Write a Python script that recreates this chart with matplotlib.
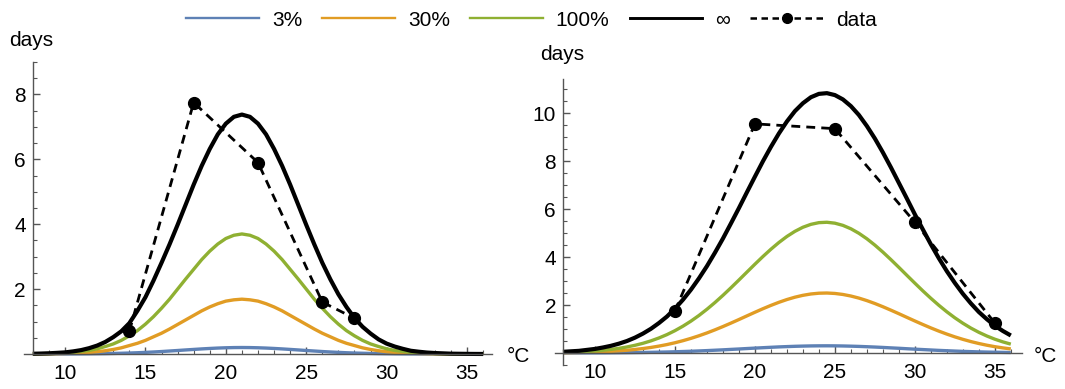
import numpy as np
import matplotlib
matplotlib.use('Agg')
import matplotlib.pyplot as plt
from matplotlib.ticker import MultipleLocator
from matplotlib.lines import Line2D

plt.rcParams['font.family'] = ['Liberation Sans', 'DejaVu Sans']

# temperature grid the model curves were read at
temp = np.arange(8, 36.5, 0.5)

labels = ['3%', '30%', '100%', '\u221e']
colors = ['#5E81B5', '#E19C24', '#8FB032', 'black']

# left panel
left_3 = [0.0003, 0.0005, 0.0008, 0.001, 0.002, 0.003, 0.004, 0.006, 0.009, 0.012,
          0.017, 0.023, 0.030, 0.039, 0.050, 0.062, 0.076, 0.092, 0.108, 0.125,
          0.141, 0.157, 0.171, 0.183, 0.192, 0.198, 0.200, 0.198, 0.192, 0.183,
          0.171, 0.157, 0.141, 0.125, 0.108, 0.092, 0.076, 0.062, 0.050, 0.039,
          0.030, 0.023, 0.017, 0.012, 0.009, 0.006, 0.004, 0.003, 0.002, 0.001,
          0.0008, 0.0005, 0.0003, 0.0002, 0.0001, 0.0001, 0.0]
left_30 = [0.003, 0.004, 0.007, 0.01, 0.016, 0.024, 0.036, 0.05, 0.07, 0.10,
           0.14, 0.19, 0.26, 0.33, 0.42, 0.53, 0.64, 0.77, 0.91, 1.05,
           1.19, 1.33, 1.45, 1.55, 1.63, 1.67, 1.69, 1.67, 1.63, 1.55,
           1.45, 1.33, 1.19, 1.05, 0.91, 0.77, 0.64, 0.53, 0.42, 0.33,
           0.26, 0.19, 0.14, 0.10, 0.07, 0.05, 0.036, 0.024, 0.016, 0.01,
           0.007, 0.004, 0.003, 0.002, 0.001, 0.0005, 0.0003]
left_100 = [0.005, 0.009, 0.014, 0.02, 0.035, 0.05, 0.08, 0.11, 0.16, 0.23,
            0.31, 0.42, 0.56, 0.72, 0.92, 1.15, 1.41, 1.69, 2.00, 2.31,
            2.61, 2.91, 3.17, 3.39, 3.56, 3.66, 3.70, 3.66, 3.56, 3.39,
            3.17, 2.91, 2.61, 2.31, 2.00, 1.69, 1.41, 1.15, 0.92, 0.72,
            0.56, 0.42, 0.31, 0.23, 0.16, 0.11, 0.08, 0.05, 0.035, 0.02,
            0.014, 0.009, 0.005, 0.003, 0.002, 0.001, 0.001]
left_inf = [0.008, 0.014, 0.022, 0.035, 0.05, 0.08, 0.12, 0.18, 0.26, 0.37,
            0.52, 0.70, 0.95, 1.33, 1.75, 2.26, 2.81, 3.38, 3.98, 4.60,
            5.22, 5.80, 6.32, 6.77, 7.10, 7.31, 7.38, 7.31, 7.10, 6.77,
            6.32, 5.80, 5.22, 4.60, 3.98, 3.38, 2.81, 2.30, 1.84, 1.45,
            1.11, 0.84, 0.63, 0.45, 0.32, 0.23, 0.16, 0.10, 0.07, 0.045,
            0.03, 0.02, 0.01, 0.007, 0.004, 0.002, 0.001]
left_data_t = [14, 18, 22, 26, 28]
left_data_d = [0.7, 7.75, 5.9, 1.6, 1.1]

# right panel
right_3 = [0.001, 0.002, 0.003, 0.004, 0.005, 0.006, 0.008, 0.011, 0.014, 0.018,
           0.022, 0.028, 0.035, 0.042, 0.051, 0.062, 0.073, 0.086, 0.100, 0.116,
           0.132, 0.150, 0.167, 0.186, 0.204, 0.221, 0.238, 0.254, 0.267, 0.279,
           0.288, 0.295, 0.299, 0.300, 0.298, 0.293, 0.285, 0.275, 0.262, 0.248,
           0.232, 0.214, 0.197, 0.178, 0.160, 0.143, 0.126, 0.109, 0.095, 0.081,
           0.068, 0.057, 0.047, 0.039, 0.032, 0.026, 0.020]
right_30 = [0.012, 0.016, 0.022, 0.029, 0.040, 0.052, 0.069, 0.090, 0.115, 0.147,
            0.186, 0.232, 0.288, 0.352, 0.427, 0.513, 0.610, 0.718, 0.836, 0.965,
            1.102, 1.246, 1.395, 1.547, 1.698, 1.845, 1.984, 2.113, 2.228, 2.326,
            2.404, 2.460, 2.492, 2.500, 2.482, 2.440, 2.375, 2.289, 2.184, 2.063,
            1.929, 1.786, 1.638, 1.486, 1.335, 1.188, 1.046, 0.912, 0.788, 0.673,
            0.570, 0.477, 0.396, 0.325, 0.264, 0.213, 0.170]
right_100 = [0.025, 0.035, 0.047, 0.064, 0.086, 0.114, 0.150, 0.195, 0.252, 0.321,
             0.405, 0.506, 0.627, 0.767, 0.931, 1.118, 1.329, 1.564, 1.823, 2.103,
             2.402, 2.717, 3.042, 3.372, 3.701, 4.021, 4.325, 4.606, 4.857, 5.070,
             5.241, 5.362, 5.433, 5.449, 5.411, 5.320, 5.178, 4.990, 4.761, 4.497,
             4.206, 3.894, 3.570, 3.239, 2.911, 2.589, 2.281, 1.989, 1.717, 1.467,
             1.242, 1.040, 0.863, 0.709, 0.576, 0.464, 0.370]
right_inf = [0.05, 0.07, 0.09, 0.13, 0.17, 0.23, 0.30, 0.39, 0.50, 0.64,
             0.81, 1.01, 1.25, 1.52, 1.85, 2.22, 2.64, 3.11, 3.62, 4.18,
             4.77, 5.40, 6.04, 6.70, 7.35, 7.99, 8.59, 9.15, 9.65, 10.08,
             10.41, 10.66, 10.80, 10.83, 10.75, 10.57, 10.29, 9.92, 9.46, 8.94,
             8.36, 7.74, 7.09, 6.44, 5.78, 5.15, 4.53, 3.95, 3.41, 2.92,
             2.47, 2.07, 1.71, 1.41, 1.14, 0.92, 0.73]
right_data_t = [15, 20, 25, 30, 35]
right_data_d = [1.75, 9.55, 9.35, 5.45, 1.25]


def draw_panel(ax, curves, data_t, data_d, ylim, major_y):
    for vals, c in zip(curves, colors):
        lw = 3.0 if c == 'black' else 2.4
        ax.plot(temp, vals, color=c, lw=lw, clip_on=False, solid_capstyle='butt')
    ax.plot(data_t, data_d, color='black', ls=(0, (3.2, 2.2)), lw=2.0,
            marker='o', ms=8.5, clip_on=False)

    ax.set_ylim(*ylim)
    for s in ['top', 'right']:
        ax.spines[s].set_visible(False)
    ax.spines['left'].set_position(('data', 8))
    ax.spines['bottom'].set_position(('data', 0))
    for s in ['left', 'bottom']:
        ax.spines[s].set_color('#555555')
        ax.spines[s].set_linewidth(1.0)

    ax.set_xticks([10, 15, 20, 25, 30, 35])
    ax.xaxis.set_minor_locator(MultipleLocator(1))
    ax.set_yticks(major_y)
    ax.yaxis.set_minor_locator(MultipleLocator(0.5))
    ax.tick_params(which='both', direction='in', colors='#555555',
                   labelcolor='black', labelsize=15)
    ax.tick_params(which='major', length=5, width=1)
    ax.tick_params(which='minor', length=3, width=0.8)
    ax.tick_params(axis='x', pad=7)
    ax.tick_params(axis='y', pad=5)


fig = plt.figure(figsize=(10.65, 3.89), dpi=100)
W, H = 1065.0, 389.0

ax1 = fig.add_axes([24 / W, 35 / H, 468 / W, 292 / H])
ax1.set_xlim(7.45, 36.55)
draw_panel(ax1, [left_3, left_30, left_100, left_inf],
           left_data_t, left_data_d, (0, 9), [2, 4, 6, 8])

ax2 = fig.add_axes([555 / W, 24 / H, 467 / W, 286 / H])
ax2.set_xlim(7.5, 36.7)
draw_panel(ax2, [right_3, right_30, right_100, right_inf],
           right_data_t, right_data_d, (-0.5, 11.42), [2, 4, 6, 8, 10])

fig.text(31 / W, 1 - 40 / H, 'days', fontsize=15, ha='center', va='center')
fig.text(562 / W, 1 - 55 / H, 'days', fontsize=15, ha='center', va='center')
fig.text(507 / W, 1 - 357 / H, '\u00b0C', fontsize=15, ha='left', va='center')
fig.text(1034 / W, 1 - 357 / H, '\u00b0C', fontsize=15, ha='left', va='center')

handles = [Line2D([], [], color=c, lw=1.7 if c != 'black' else 2.1) for c in colors]
handles.append(Line2D([], [], color='black', ls=(0, (2.6, 1.8)), lw=1.8,
                      marker='o', ms=7))
fig.legend(handles, labels + ['data'], loc='center', ncol=5, frameon=False,
           bbox_to_anchor=(0.499, 1 - 20 / H), fontsize=15, handlelength=3.5,
           handletextpad=0.62, columnspacing=0.96)

fig.savefig('out.png', dpi=100)
